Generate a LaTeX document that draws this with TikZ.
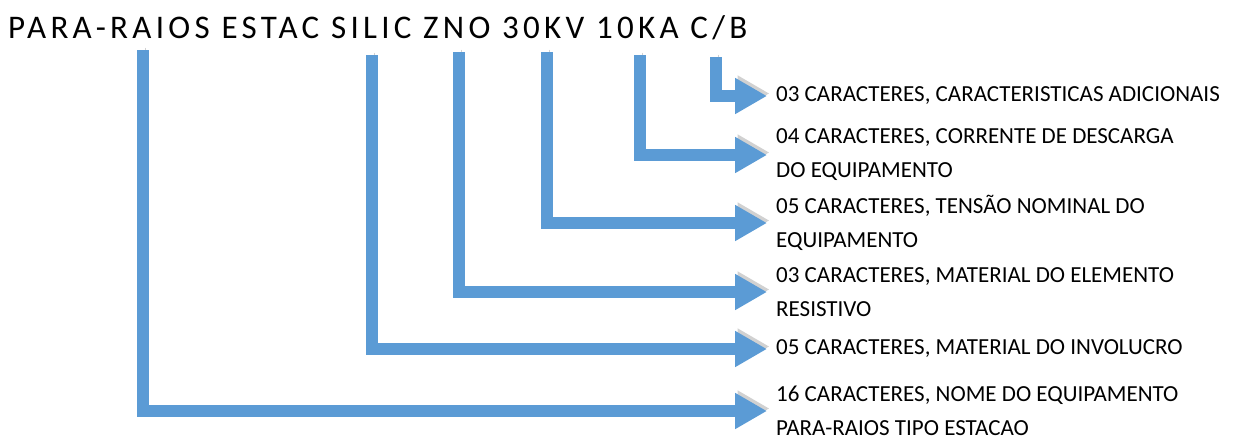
\documentclass[tikz,border=0pt]{standalone}
\usepackage{fontspec}
\setmainfont{Carlito}
\newfontfamily\titlefont[LetterSpace=13]{Carlito}
\usetikzlibrary{arrows.meta}
\definecolor{barblue}{HTML}{5B9BD5}

\begin{document}
\begin{tikzpicture}[x=1pt, y=-1pt,
  a/.style={draw=barblue, line width=12pt, line join=miter, -{Triangle[length=32pt, width=34pt]},
    preaction={draw=black!60, opacity=0.3, transform canvas={xshift=2.5pt, yshift=2.5pt}}},
  t/.style={anchor=west, align=left, inner xsep=9pt, inner ysep=0pt, font=\fontsize{23}{34}\selectfont}]
  \useasboundingbox (0,0) rectangle (1235,437);
  \node[anchor=base west, inner sep=0pt, font=\titlefont\fontsize{33}{33}\selectfont] (title) at (8,38) {PARA-RAIOS ESTAC SILIC ZNO 30KV 10KA C/B};
  % tops of the bars under the code
  \coordinate (p1) at (143,50);
  \coordinate (p2) at (372,55);
  \coordinate (p3) at (459,52);
  \coordinate (p4) at (547,52);
  \coordinate (p5) at (640,55);
  \coordinate (p6) at (716,57);
  % field descriptions
  \node[t] (l6) at (767,96) {03 CARACTERES, CARACTERISTICAS ADICIONAIS};
  \node[t] (l5) at (767,155) {04 CARACTERES, CORRENTE DE DESCARGA\\DO EQUIPAMENTO};
  \node[t] (l4) at (767,223) {05 CARACTERES, TENSÃO NOMINAL DO\\EQUIPAMENTO};
  \node[t] (l3) at (767,292) {03 CARACTERES, MATERIAL DO ELEMENTO\\RESISTIVO};
  \node[t] (l2) at (767,349) {05 CARACTERES, MATERIAL DO INVOLUCRO};
  \node[t] (l1) at (767,411) {16 CARACTERES, NOME DO EQUIPAMENTO\\PARA-RAIOS TIPO ESTACAO};
  \draw[a] (p1) |- (l1.west);
  \draw[a] (p2) |- (l2.west);
  \draw[a] (p3) |- (l3.west);
  \draw[a] (p4) |- (l4.west);
  \draw[a] (p5) |- (l5.west);
  \draw[a] (p6) |- (l6.west);
\end{tikzpicture}
\end{document}
